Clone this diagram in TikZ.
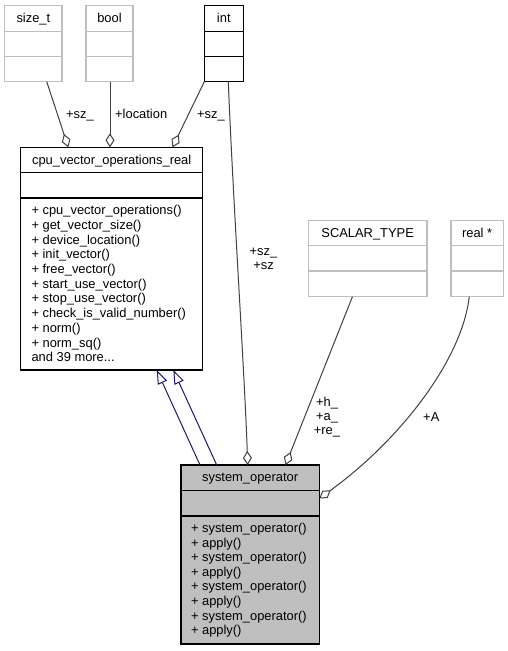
\documentclass[tikz,border=0pt]{standalone}
\usepackage{fontspec}
\setmainfont{Liberation Sans}
\usetikzlibrary{arrows.meta}
\definecolor{lgray}{HTML}{BFBFBF}
\definecolor{edgegray}{HTML}{404040}
\definecolor{inhblue}{RGB}{25,25,112}
\begin{document}
\begin{tikzpicture}[x=1pt,y=-1pt,
  every node/.style={font=\fontsize{12.9}{14}\selectfont, inner sep=0pt, outer sep=0pt},
  clsbox/.style={line width=1.1pt, anchor=north west},
  graybox/.style={clsbox, draw=lgray},
  blackbox/.style={clsbox, draw=black},
  graysep/.style={draw=lgray, line width=1.1pt},
  blacksep/.style={draw=black, line width=1.1pt},
  memb/.style={anchor=base west},
  ctitle/.style={anchor=base},
  assoc/.style={draw=edgegray, line width=1pt, -{Diamond[length=14pt,width=9pt,fill=white]}},
  inherit/.style={draw=inhblue, line width=1pt, -{Triangle[length=14pt,width=10pt,fill=white]}},
  lbl/.style={anchor=base}
]
\useasboundingbox (0,0) rectangle (508,651);

% size_t
\node[graybox, minimum width=57.3pt, minimum height=76.4pt] (sizet) at (4.7,5.3) {};
\draw[graysep] (4.7,31.5) -- (62,31.5);
\draw[graysep] (4.7,56.7) -- (62,56.7);
\node[ctitle] (sizetT) at (33.35,22) {size\_t};

% bool
\node[graybox, minimum width=47pt, minimum height=76.4pt] (bool) at (86,5.3) {};
\draw[graysep] (86,31.5) -- (133,31.5);
\draw[graysep] (86,56.7) -- (133,56.7);
\node[ctitle] (boolT) at (109.5,22) {bool};

% int
\node[blackbox, minimum width=39pt, minimum height=76.2pt] (int) at (204.3,5.5) {};
\draw[blacksep] (204.3,31.3) -- (243.3,31.3);
\draw[blacksep] (204.3,56.7) -- (243.3,56.7);
\node[ctitle] (intT) at (223.8,22) {int};

% SCALAR_TYPE
\node[graybox, minimum width=118.7pt, minimum height=76pt] (scalar) at (308.3,220.7) {};
\draw[graysep] (308.3,245.7) -- (427,245.7);
\draw[graysep] (308.3,271) -- (427,271);
\node[ctitle] (scalarT) at (367.65,237.4) {SCALAR\_TYPE};

% real *
\node[graybox, minimum width=52.3pt, minimum height=76pt] (real) at (451,220.7) {};
\draw[graysep] (451,245.7) -- (503.3,245.7);
\draw[graysep] (451,271) -- (503.3,271);
\node[ctitle] (realT) at (477.15,237.4) {real *};

% cpu_vector_operations_real
\node[blackbox, fill=white, minimum width=182pt, minimum height=222.7pt] (cpu) at (20.7,147.3) {};
\draw[blacksep] (20.7,172.7) -- (202.7,172.7);
\draw[blacksep] (20.7,198) -- (202.7,198);
\node[ctitle] (cpuT) at (111.7,164) {cpu\_vector\_operations\_real};
\node[memb] (cm1) at (31.5,214.7) {+ cpu\_vector\_operations()};
\node[memb] (cm2) at (31.5,229.4) {+ get\_vector\_size()};
\node[memb] (cm3) at (31.5,244.1) {+ device\_location()};
\node[memb] (cm4) at (31.5,258.8) {+ init\_vector()};
\node[memb] (cm5) at (31.5,273.5) {+ free\_vector()};
\node[memb] (cm6) at (31.5,288.2) {+ start\_use\_vector()};
\node[memb] (cm7) at (31.5,302.9) {+ stop\_use\_vector()};
\node[memb] (cm8) at (31.5,317.6) {+ check\_is\_valid\_number()};
\node[memb] (cm9) at (31.5,332.3) {+ norm()};
\node[memb] (cm10) at (31.5,347.0) {+ norm\_sq()};
\node[memb] (cm11) at (31.5,361.7) {and 39 more...};

% system_operator
\node[blackbox, fill=lgray, minimum width=138.3pt, minimum height=179pt] (sys) at (181,465) {};
\draw[blacksep] (181,490.7) -- (319.3,490.7);
\draw[blacksep] (181,516) -- (319.3,516);
\node[ctitle] (sysT) at (250.15,481.7) {system\_operator};
\node[memb] (sm1) at (191,532.5) {+ system\_operator()};
\node[memb] (sm2) at (191,547.1) {+ apply()};
\node[memb] (sm3) at (191,561.7) {+ system\_operator()};
\node[memb] (sm4) at (191,576.3) {+ apply()};
\node[memb] (sm5) at (191,590.9) {+ system\_operator()};
\node[memb] (sm6) at (191,605.5) {+ apply()};
\node[memb] (sm7) at (191,620.1) {+ system\_operator()};
\node[memb] (sm8) at (191,634.7) {+ apply()};

% inheritance
\draw[inherit] ([xshift=-50.15pt]sys.north) -- ([xshift=45pt]cpu.south);
\draw[inherit] ([xshift=-33.45pt]sys.north) -- ([xshift=61.6pt]cpu.south);

% associations
\draw[assoc] ([xshift=13.4pt]sizet.south) -- ([xshift=-43.4pt]cpu.north);
\draw[assoc] ([xshift=0.5pt]bool.south) -- ([xshift=-1.7pt]cpu.north);
\draw[assoc] (int.south west) -- ([xshift=60.8pt]cpu.north);
\draw[assoc] ([xshift=4.5pt]int.south) .. controls (233,200) and (245,380) .. ([xshift=-2.5pt]sys.north);
\draw[assoc] ([xshift=-15.2pt]scalar.south) -- ([xshift=35.35pt]sys.north);
\draw[assoc] ([xshift=-7.9pt]real.south) .. controls (462,360) and (400,440) .. ([yshift=56pt]sys.east);

% labels
\node[lbl] (l1) at (80,118.3) {+sz\_};
\node[lbl] (l2) at (141.2,118.3) {+location};
\node[lbl] (l3) at (211,118.3) {+sz\_};
\node[lbl] (l4) at (263.5,255.7) {\begin{tabular}[t]{@{}c@{}}+sz\_\\+sz\end{tabular}};
\node[lbl] (l5) at (327,406.7) {\begin{tabular}[t]{@{}c@{}}+h\_\\+a\_\\+re\_\end{tabular}};
\node[lbl] (l6) at (431.3,421) {+A};
\end{tikzpicture}
\end{document}
